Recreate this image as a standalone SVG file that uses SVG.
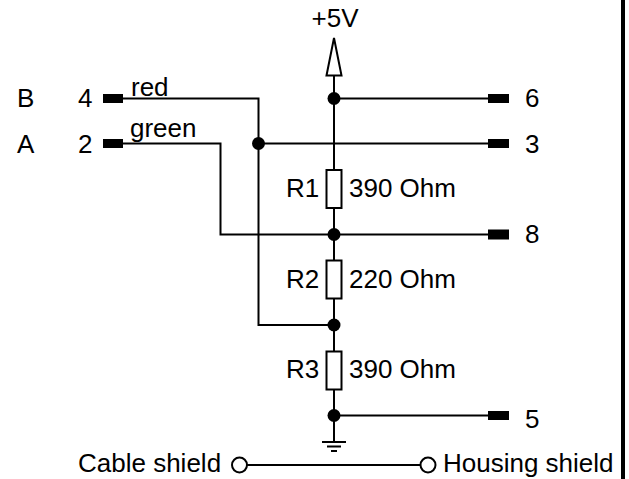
<svg xmlns="http://www.w3.org/2000/svg" width="629" height="479" viewBox="0 0 629 479">
<style>
text{font-family:"Liberation Sans",Arial,sans-serif;font-size:26px;fill:#000}
.w{fill:none;stroke:#000;stroke-width:2}
.p{fill:#000}
.j{fill:#000}
.o{fill:#fff;stroke:#000;stroke-width:2}
</style>
<rect width="629" height="479" fill="#fff"/>
<rect x="621" y="0" width="4" height="479" fill="#000"/>
<g id="connectors">
<path class="w" d="M123 98.500H258.500V325H334"/>
<path class="w" d="M123 143.500H220.500V234.500H488"/>
<path class="w" d="M258.500 143.500H488"/>
<path class="w" d="M334 75V442"/>
<path class="w" d="M334 98.500H488"/>
<path class="w" d="M334 415.500H488"/>
<path class="w" d="M247 465H420"/>
</g>
<g id="supply"><polygon class="o" points="334,38 326.500,75.500 341.500,75.500"/><text x="335" y="27" text-anchor="middle">+5V</text></g>
<g id="junctions">
<circle class="j" cx="334" cy="98.500" r="6.500"/><circle class="j" cx="258.500" cy="143.500" r="6.500"/><circle class="j" cx="334" cy="234.500" r="6.500"/><circle class="j" cx="334" cy="325" r="6.500"/><circle class="j" cx="334" cy="415.500" r="6.500"/>
</g>
<g id="pin4"><rect class="p" x="103" y="94" width="20" height="9"/><text x="78" y="107">4</text><text x="17" y="107">B</text><text x="131" y="96">red</text></g>
<g id="pin2"><rect class="p" x="103" y="139" width="20" height="9"/><text x="78" y="153">2</text><text x="17" y="153">A</text><text x="130" y="137">green</text></g>
<g id="pin6"><rect class="p" x="488" y="94" width="21" height="9"/><text x="525" y="107">6</text></g>
<g id="pin3"><rect class="p" x="488" y="139" width="21" height="9"/><text x="525" y="153">3</text></g>
<g id="pin8"><rect class="p" x="488" y="229.500" width="21" height="10"/><text x="525" y="243">8</text></g>
<g id="pin5"><rect class="p" x="488" y="411" width="21" height="9"/><text x="525" y="428">5</text></g>
<g id="R1"><rect class="o" x="326.500" y="170" width="15" height="38"/><text x="286" y="197">R1</text><text x="349" y="197">390 Ohm</text></g>
<g id="R2"><rect class="o" x="326.500" y="260.500" width="15" height="38"/><text x="286" y="288">R2</text><text x="349" y="288">220 Ohm</text></g>
<g id="R3"><rect class="o" x="326.500" y="351.500" width="15" height="38"/><text x="286" y="378">R3</text><text x="349" y="378">390 Ohm</text></g>
<g id="ground"><path class="w" d="M322 442H346M327 446.500H341M331 451H337"/></g>
<g id="cable-shield"><circle class="o" cx="239.500" cy="465" r="7.500"/><text x="78" y="472">Cable shield</text></g>
<g id="housing-shield"><circle class="o" cx="428" cy="465" r="7.500"/><text x="443" y="472">Housing shield</text></g>
</svg>
